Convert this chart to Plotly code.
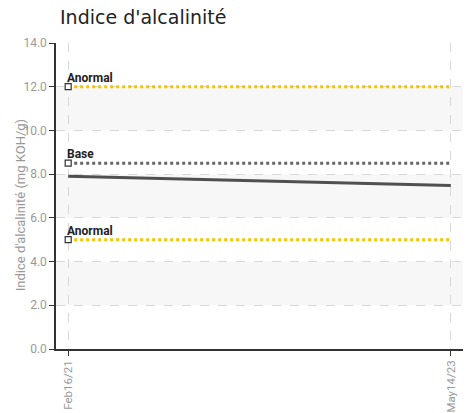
import plotly.graph_objects as go

# Data
dates = ["2021-02-16", "2021-08-20", "2022-03-10", "2022-10-05", "2023-05-14"]
values = [7.90, 7.80, 7.68, 7.58, 7.48]
ref_start = "2021-02-16"
ref_end = "2023-05-14"
ref_names = ["Anormal", "Base", "Anormal"]
ref_values = [12.0, 8.5, 5.0]
ref_colors = ["#F5C400", "#666666", "#F5C400"]
tick_dates = ["2021-02-16", "2023-05-14"]
tick_labels = ["Feb16/21", "May14/23"]
y_ticks = [0, 2, 4, 6, 8, 10, 12, 14]
bands = [(2, 4), (6, 8), (10, 12)]
y_title = "Indice d'alcalinité (mg KOH/g)"
chart_title = "Indice d'alcalinité"

font_ax = "Roboto, sans-serif"

fig = go.Figure()

for name, val, col in zip(ref_names, ref_values, ref_colors):
    fig.add_trace(go.Scatter(
        x=[ref_start, ref_end], y=[val, val], mode="lines",
        line=dict(color=col, width=3, dash="dot"), hoverinfo="skip", showlegend=False))
    fig.add_trace(go.Scatter(
        x=[ref_start], y=[val], mode="markers",
        marker=dict(symbol="square", size=6, color="white", line=dict(color="#333333", width=1.2)),
        hoverinfo="skip", showlegend=False))
    fig.add_annotation(x=ref_start, y=val, text=name, showarrow=False,
                       xanchor="left", yanchor="bottom", xshift=-3, yshift=0,
                       font=dict(family=font_ax, size=12, color="#222222", weight="bold"))

fig.add_trace(go.Scatter(
    x=dates, y=values, mode="lines",
    line=dict(color="#505050", width=3), showlegend=False))

for y0, y1 in bands:
    fig.add_shape(type="rect", xref="paper", x0=0, x1=1, y0=y0, y1=y1,
                  fillcolor="#f7f7f7", line=dict(width=0), layer="below")

fig.add_annotation(xref="paper", yref="paper", x=0, y=0.47, xshift=-36,
                   text=y_title, textangle=-90, showarrow=False,
                   xanchor="center", yanchor="middle",
                   font=dict(family=font_ax, size=13, color="#999999"))

fig.update_layout(
    width=469, height=413,
    margin=dict(l=56, r=6, t=43, b=64, autoexpand=False),
    paper_bgcolor="white", plot_bgcolor="white",
    title=dict(text=chart_title, x=0, xref="paper", xanchor="left",
               y=1, yref="container", yanchor="top", pad=dict(l=4, t=11),
               font=dict(family="DejaVu Sans, sans-serif", size=19, color="#222222")),
    xaxis=dict(
        type="date", range=["2021-01-21", "2023-06-09"], automargin=False,
        tickvals=tick_dates, ticktext=tick_labels, tickangle=-90,
        tickfont=dict(family=font_ax, size=11.5, color="#999999"),
        showgrid=True, gridcolor="#d8d8d8", griddash="dash", gridwidth=1,
        showline=True, linecolor="#333333", linewidth=1.5,
        ticks="outside", ticklen=5, tickcolor="#333333", zeroline=False),
    yaxis=dict(
        range=[0, 14], tickvals=y_ticks, ticktext=[f"{v:.1f}" for v in y_ticks],
        automargin=False,
        tickfont=dict(family=font_ax, size=12, color="#999999"),
        showgrid=True, gridcolor="#d8d8d8", griddash="dash", gridwidth=1,
        showline=True, linecolor="#333333", linewidth=1.5,
        ticks="outside", ticklen=5, tickcolor="#333333", zeroline=False),
)

fig.write_html("out.html", config={"displayModeBar": False},
               post_script="document.body.style.margin='0';")
